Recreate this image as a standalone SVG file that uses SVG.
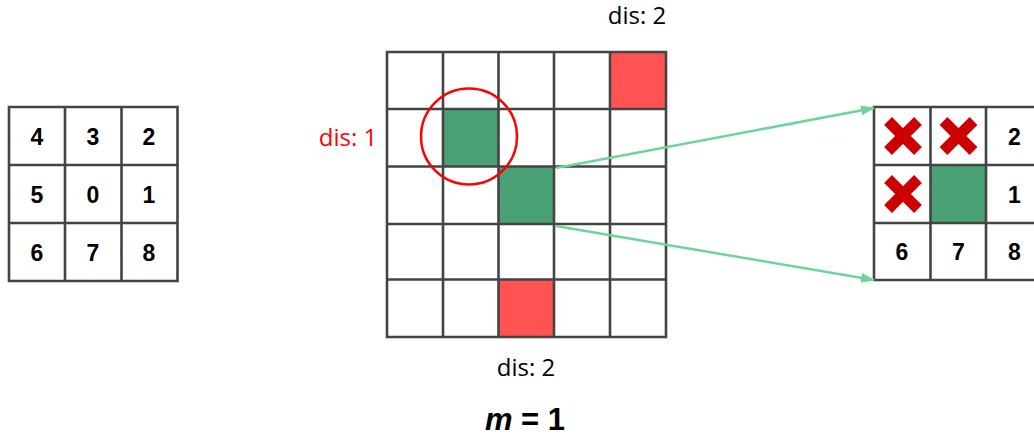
<svg xmlns="http://www.w3.org/2000/svg" width="1034" height="438" viewBox="0 0 1034 438">
<defs>
<style>
.grid{fill:none;stroke:#444;stroke-width:2.6}
.num{font-family:"Liberation Sans",Arial,sans-serif;font-weight:bold;font-size:23px;fill:#000;text-anchor:middle}
.dis{font-family:"Open Sans","Noto Sans",sans-serif;font-size:24px;fill:#000;text-anchor:middle}
.red{fill:#ff5252}
.green{fill:#4aa173}
.conn{stroke:#6fd49b;stroke-width:2.5;fill:none}
.x{stroke:#cc0000;stroke-width:11;stroke-linecap:butt}
</style>
<marker id="ah" markerWidth="14" markerHeight="10" refX="13" refY="5" orient="auto" markerUnits="userSpaceOnUse">
<polygon points="0,0 14,5 0,10" fill="#6fd49b"/>
</marker>
<g id="cross"><line class="x" x1="-15" y1="-15" x2="15" y2="15"/><line class="x" x1="15" y1="-15" x2="-15" y2="15"/></g>
</defs>
<rect width="1034" height="438" fill="#fff"/>

<g id="left-grid">
<path class="grid" d="M9,107H177.5V281H9Z M65,107V281 M121.5,107V281 M9,165H177.5 M9,223H177.5"/>
<text class="num" x="37" y="144.5">4</text>
<text class="num" x="93" y="144.5">3</text>
<text class="num" x="149" y="144.5">2</text>
<text class="num" x="37" y="202.5">5</text>
<text class="num" x="93" y="202.5">0</text>
<text class="num" x="149" y="202.5">1</text>
<text class="num" x="37" y="260.5">6</text>
<text class="num" x="93" y="260.5">7</text>
<text class="num" x="149" y="260.5">8</text>
</g>

<g id="center-grid">
<rect class="red" x="610" y="52" width="56" height="57"/>
<rect class="red" x="498.5" y="279.5" width="55.5" height="57.5"/>
<rect class="green" x="443" y="109" width="55.5" height="57.5"/>
<rect class="green" x="498.5" y="166.5" width="55.5" height="57.5"/>
<path class="grid" d="M387,52H666V337H387Z M443,52V337 M498.5,52V337 M554,52V337 M610,52V337 M387,109H666 M387,166.5H666 M387,224H666 M387,279.5H666"/>
</g>

<g id="focus-circle">
<circle cx="469" cy="136.5" r="48" fill="none" stroke="#ff0000" stroke-width="2.5"/>
</g>

<g id="right-grid">
<rect class="green" x="930.5" y="165" width="55.5" height="58"/>
<path class="grid" d="M874,107H1045V280H874Z M930.5,107V280 M986,107V280 M874,165H1045 M874,223H1045"/>
<use href="#cross" x="903" y="136"/>
<use href="#cross" x="958.5" y="136"/>
<use href="#cross" x="903" y="194"/>
<text class="num" x="1014.5" y="144.5">2</text>
<text class="num" x="1014.5" y="202.5">1</text>
<text class="num" x="902" y="259.5">6</text>
<text class="num" x="958.5" y="259.5">7</text>
<text class="num" x="1014.5" y="259.5">8</text>
</g>

<g id="connectors">
<line class="conn" x1="556" y1="168" x2="874" y2="108" marker-end="url(#ah)"/>
<line class="conn" x1="556" y1="226" x2="874" y2="280" marker-end="url(#ah)"/>
</g>

<g id="labels">
<text class="dis" x="637" y="24">dis: 2</text>
<text class="dis" x="348" y="146" style="fill:#ff0000">dis: 1</text>
<text class="dis" x="526" y="376">dis: 2</text>
<text x="525" y="430" style="font-family:'Liberation Sans',Arial,sans-serif;font-weight:bold;font-size:31px;text-anchor:middle"><tspan font-style="italic">m</tspan> = 1</text>
</g>
</svg>
